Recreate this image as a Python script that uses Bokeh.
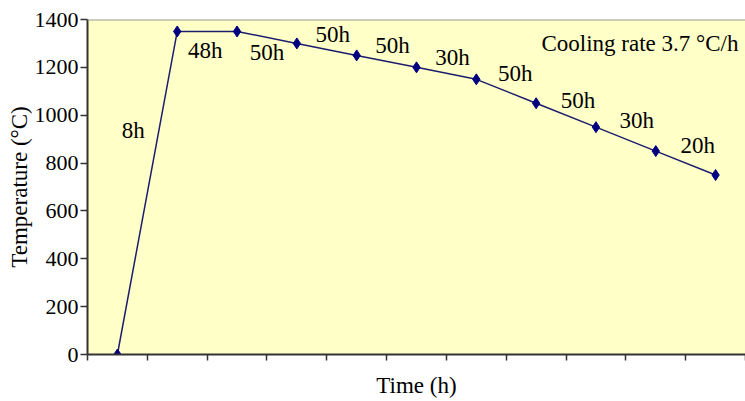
from bokeh.plotting import figure
from bokeh.models import FixedTicker, Range1d, Span, ColumnDataSource, Label, CustomJSTickFormatter
from bokeh.core.properties import value
from bokeh.embed import file_html
from bokeh.resources import INLINE

# --- data ---
steps = list(range(11))
temperature = [0, 1350, 1350, 1300, 1250, 1200, 1150, 1050, 950, 850, 750]
durations = ["8h", "48h", "50h", "50h", "50h", "30h", "50h", "50h", "30h", "20h"]
y_ticks = [0, 200, 400, 600, 800, 1000, 1200, 1400]
note = "Cooling rate 3.7 \u00b0C/h"

# label pixel offsets relative to segment midpoints (styling)
off_x = [-14, -2, 0, 6, 6, 6, 9, 12, 11, 12]
off_y = [-62, 19, 15, -15, -16, -16, -18, -15, -19, -18]

FONT = "Liberation Serif"
NAVY = "#000080"
INK = "#000000"

p = figure(width=745, height=401, output_backend="svg", toolbar_location=None,
           x_range=Range1d(-0.5, 10.5), y_range=Range1d(0, 1400),
           min_border_left=87, min_border_right=0, min_border_top=19,
           min_border_bottom=47)
p.background_fill_color = "#FFFFC8"
p.border_fill_color = "white"
p.outline_line_color = None
p.grid.visible = False

p.add_layout(Span(location=1400, dimension="width", line_color="#999999", line_width=2))

p.line(steps, temperature, line_color="#1c1c6e", line_width=1.5)
p.scatter(steps, temperature, marker="diamond", size=11, fill_color=NAVY, line_color=NAVY)

mid_x = [(steps[i] + steps[i + 1]) / 2 for i in range(len(durations))]
mid_y = [(temperature[i] + temperature[i + 1]) / 2 for i in range(len(durations))]
src = ColumnDataSource(dict(x=mid_x, y=mid_y, t=durations, ox=off_x, oy=off_y))
p.text(x="x", y="y", text="t", x_offset="ox", y_offset="oy", source=src,
       text_font=value(FONT), text_font_size="23px", text_color=INK,
       text_align="center", text_baseline="middle")

p.add_layout(Label(x=10.5, y=1300, x_offset=-7, text=note, text_font=FONT, text_font_size="23px",
                   text_color=INK, text_align="right", text_baseline="middle"))

# axes
p.yaxis.ticker = FixedTicker(ticks=y_ticks)
p.xaxis.ticker = FixedTicker(ticks=[s - 0.5 for s in steps] + [10.5])
p.xaxis.formatter = CustomJSTickFormatter(code="return '';")
p.xaxis.major_label_standoff = 0
for ax in (p.xaxis[0], p.yaxis[0]):
    ax.axis_line_color = "#333333"
    ax.axis_line_width = 2
    ax.major_tick_line_color = "#333333"
    ax.major_tick_line_width = 1.5
    ax.major_tick_in = 0
    ax.minor_tick_line_color = None
    ax.axis_label_text_font = FONT
    ax.axis_label_text_font_size = "23px"
    ax.axis_label_text_font_style = "normal"
    ax.axis_label_text_color = INK
    ax.major_label_text_font = FONT
    ax.major_label_text_font_size = "22px"
    ax.major_label_text_color = INK
p.yaxis.major_tick_out = 7
p.xaxis.major_tick_out = 6
p.yaxis.major_label_standoff = 2
p.xaxis.axis_label = "Time (h)"
p.yaxis.axis_label = "Temperature (\u00b0C)"
p.xaxis.axis_label_standoff = 12
p.yaxis.axis_label_standoff = 0

open("out.html", "w").write(file_html(p, INLINE))
